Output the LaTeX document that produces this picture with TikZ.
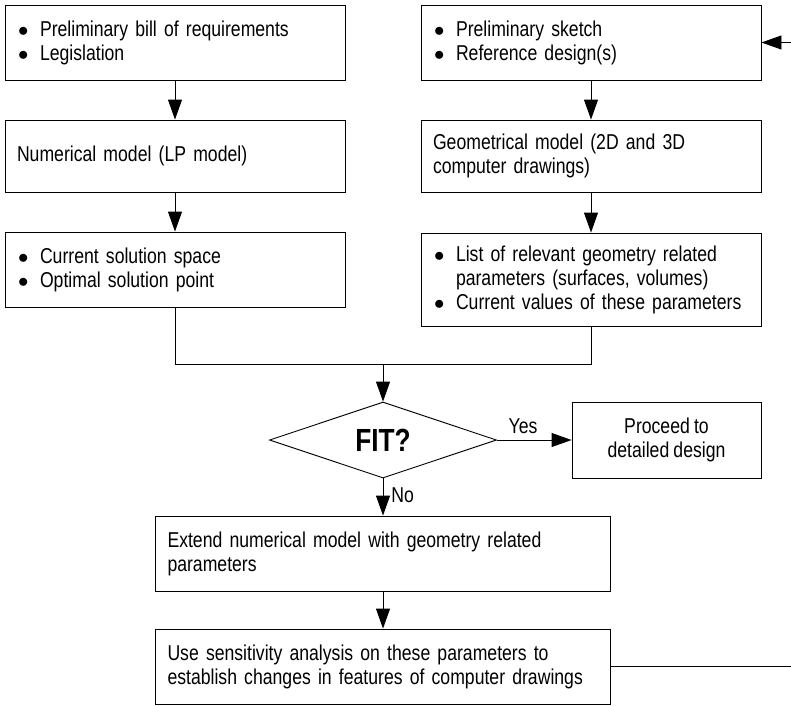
\documentclass[tikz,border=0pt]{standalone}
\usepackage{fontspec}
\setmainfont[FakeStretch=0.82, WordSpace=0.85]{Liberation Sans}
\usetikzlibrary{positioning,shapes.geometric,arrows.meta}
\newcommand{\itm}{\makebox[23pt][l]{\hspace*{1pt}$\bullet$}}
\newcommand{\cnt}{\hspace*{23pt}}

\begin{document}
\begin{tikzpicture}[x=1pt, y=-1pt, line width=0.9pt,
  blk/.style={draw, rectangle, minimum width=340pt, minimum height=75pt, text width=316pt, inner xsep=12pt, align=left, font=\fontsize{21.5}{24}\selectfont},
  wide/.style={blk, minimum width=455pt, text width=431pt},
  cbox/.style={draw, rectangle, minimum width=189pt, minimum height=76pt, align=center, inner sep=0pt, font=\fontsize{21.5}{24}\selectfont},
  dec/.style={draw, diamond, aspect=3, inner sep=0pt, minimum width=227pt, minimum height=76pt, font=\fontsize{32}{34}\selectfont\bfseries},
  lbl/.style={font=\fontsize{21.5}{24}\selectfont, inner sep=2pt},
  arr/.style={-{Triangle[length=20pt, width=14pt]}}]
\useasboundingbox (0,0) rectangle (791,705);
% left column
\node[blk] (b1) at (175,42.5) {\itm Preliminary bill of requirements\\ \itm Legislation};
\node[blk, minimum height=72pt] (b2) at (175,156) {Numerical model (LP model)};
\node[blk] (b3) at (175,269.5) {\itm Current solution space\\ \itm Optimal solution point};
% right column
\node[blk] (b4) at (591,42.5) {\itm Preliminary sketch\\ \itm Reference design(s)};
\node[blk, minimum height=72pt] (b5) at (591,156) {Geometrical model (2D and 3D\\ computer drawings)};
\node[blk, minimum height=93pt] (b6) at (591,279.5) {\itm List of relevant geometry related\\ \cnt parameters (surfaces, volumes)\\ \itm Current values of these parameters};
% decision and below
\node[dec] (fit) at (383,440) {FIT?};
\node[cbox] (b7) at (666.5,440) {Proceed to\\ detailed design};
\node[wide] (b8) at (383,553.5) {Extend numerical model with geometry related\\ parameters};
\node[wide] (b9) at (383,666.5) {Use sensitivity analysis on these parameters to\\ establish changes in features of computer drawings};
\coordinate (mrg) at (383,364);
\coordinate (fbk) at (800,350);
\draw[arr] (b1) -- (b2);
\draw[arr] (b2) -- (b3);
\draw[arr] (b4) -- (b5);
\draw[arr] (b5) -- (b6);
\draw (b3.south) |- (mrg) -| (b6.south);
\draw[arr] (mrg) -- (fit);
\draw[arr] (fit) -- node[lbl, pos=0.35, above, yshift=4pt] {Yes} (b7);
\draw[arr] (fit) -- node[lbl, pos=0.45, right, xshift=6pt] {No} (b8);
\draw[arr] (b8) -- (b9);
\draw[arr] (b9.east) -| (fbk) |- (b4.east);
\end{tikzpicture}
\end{document}
